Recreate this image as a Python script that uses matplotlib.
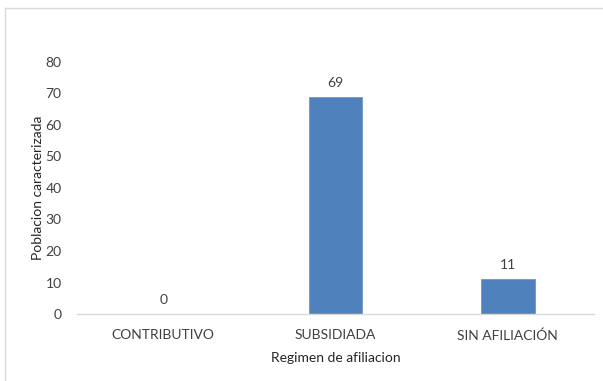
import matplotlib.pyplot as plt
from matplotlib.lines import Line2D

categorias = ["CONTRIBUTIVO", "SUBSIDIADA", "SIN AFILIACIÓN"]
poblacion = [0, 69, 11]

plt.rcParams['font.family'] = ['Lato', 'DejaVu Sans']

fig = plt.figure(figsize=(6.03, 3.81), dpi=100)
ax = fig.add_axes([77 / 603, 1 - 314 / 381, 517 / 603, 252 / 381])

x = range(len(categorias))
bars = ax.bar(x, poblacion, width=0.31, color="#4F81BD", edgecolor="#6f96cc", linewidth=0.6)
for xi, v in zip(x, poblacion):
    ax.text(xi, v + 2.5, str(v), ha="center", va="bottom", fontsize=10, color="#404040")

ax.set_xlim(-0.5, 2.5)
ax.set_ylim(0, 80)
ax.set_yticks(range(0, 81, 10))
ax.set_xticks(list(x))
ax.set_xticklabels(categorias)
ax.tick_params(axis="both", length=0, labelsize=10, colors="#404040")
ax.tick_params(axis="x", pad=11)
ax.tick_params(axis="y", pad=11)
for s in ["top", "right", "left"]:
    ax.spines[s].set_visible(False)
ax.spines["bottom"].set_color("#d9d9d9")
ax.spines["bottom"].set_linewidth(1.0)

ax.set_xlabel("Regimen de afiliacion", fontsize=10, color="#262626", labelpad=7)
ax.set_ylabel("Poblacion caracterizada", fontsize=10, color="#262626", labelpad=1.5)

# borde del recorte
fig.add_artist(Line2D([5 / 603, 1], [1 - 8 / 381, 1 - 8 / 381], transform=fig.transFigure, color="#d9d9d9", lw=1))
fig.add_artist(Line2D([5 / 603, 5 / 603], [0, 1 - 8 / 381], transform=fig.transFigure, color="#d9d9d9", lw=1))

fig.savefig("out.png", dpi=100)
